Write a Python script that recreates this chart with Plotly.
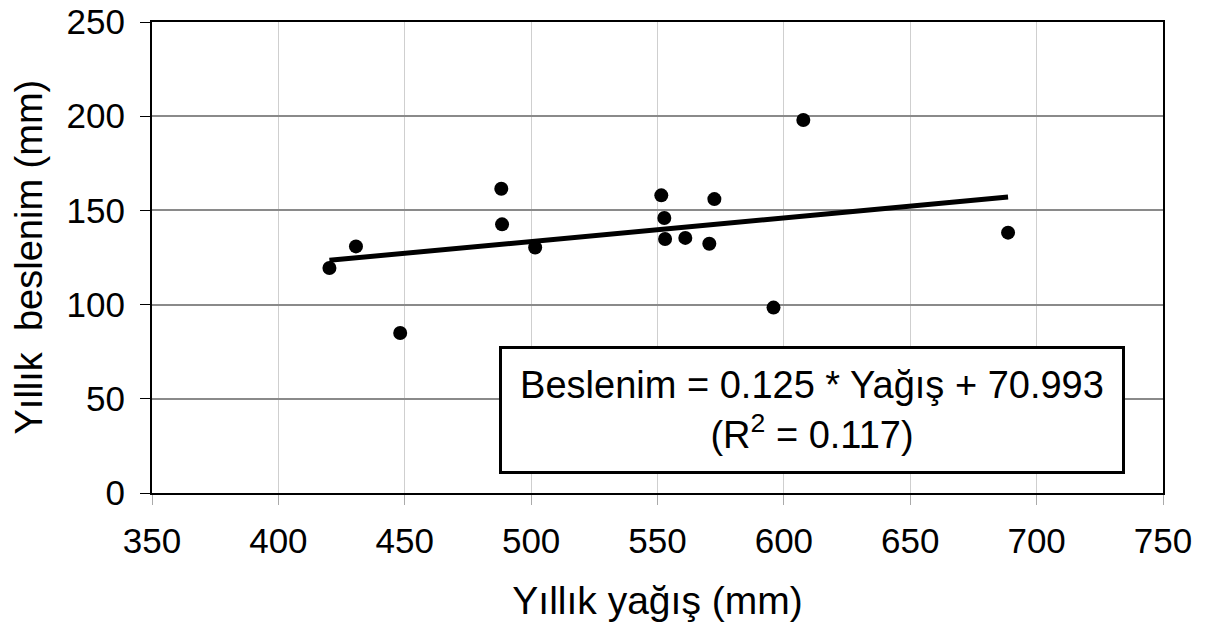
import plotly.graph_objects as go

# Data
yagis = [420.2, 430.7, 448.2, 488.2, 488.5, 501.6, 551.5, 552.7, 553.0, 561.0, 570.5, 572.5, 595.9, 607.7, 688.7]
beslenim = [119.4, 130.9, 84.9, 161.5, 142.6, 130.3, 158.0, 146.0, 134.8, 135.4, 132.3, 156.0, 98.4, 198.0, 138.2]

# Regression shown in the chart label
slope = 0.125
intercept = 70.993
trend_x = [min(yagis), max(yagis)]
trend_y = [slope * v + intercept for v in trend_x]

x_ticks = [350, 400, 450, 500, 550, 600, 650, 700, 750]
y_ticks = [0, 50, 100, 150, 200, 250]

FONT = "Liberation Sans, Arial, sans-serif"

fig = go.Figure()
fig.add_trace(go.Scatter(x=trend_x, y=trend_y, mode="lines",
                         line=dict(color="black", width=5), showlegend=False))
fig.add_trace(go.Scatter(x=yagis, y=beslenim, mode="markers",
                         marker=dict(color="black", size=14), showlegend=False))

fig.add_annotation(x=611, y=44, xref="x", yref="y",
                   text="Beslenim = 0.125 * Yağış + 70.993<br>(R<sup>2</sup> = 0.117)",
                   showarrow=False, xanchor="center", yanchor="middle",
                   font=dict(family=FONT, size=38, color="black"),
                   bgcolor="white", bordercolor="black", borderwidth=3,
                   borderpad=4, width=612, height=114, align="center")

# y-axis title as a rotated text placed left of the tick labels
fig.add_annotation(x=0, y=0.5, xref="paper", yref="paper",
                   text="Yıllık  beslenim (mm)", textangle=-90,
                   showarrow=False, xanchor="center", yanchor="middle",
                   xshift=-124, font=dict(family=FONT, size=38, color="black"))

fig.update_layout(
    width=1208, height=627,
    margin=dict(l=144, r=53, t=14, b=142),
    paper_bgcolor="white", plot_bgcolor="white",
    font=dict(family=FONT, size=35, color="black"),
)
fig.update_xaxes(range=[350, 750], tickvals=x_ticks, showgrid=True, gridcolor="#cfcfcf", gridwidth=1,
                 showline=True, linecolor="black", linewidth=2, mirror=True,
                 ticks="outside", ticklen=10, tickcolor="#aaa", zeroline=False,
                 ticklabelstandoff=6, ticklabeloverflow="allow", automargin=False,
                 title=dict(text="Yıllık yağış (mm)", font=dict(size=39), standoff=28),
                 tickfont=dict(size=35))
fig.update_yaxes(range=[0, 250], tickvals=y_ticks, showgrid=True, gridcolor="#8a8a8a", gridwidth=1.5,
                 showline=True, linecolor="black", linewidth=2, mirror=True,
                 ticks="outside", ticklen=10, tickcolor="black", zeroline=False,
                 ticklabelstandoff=8, ticklabeloverflow="allow", automargin=False,
                 tickfont=dict(size=35))

fig.write_html("out.html")
